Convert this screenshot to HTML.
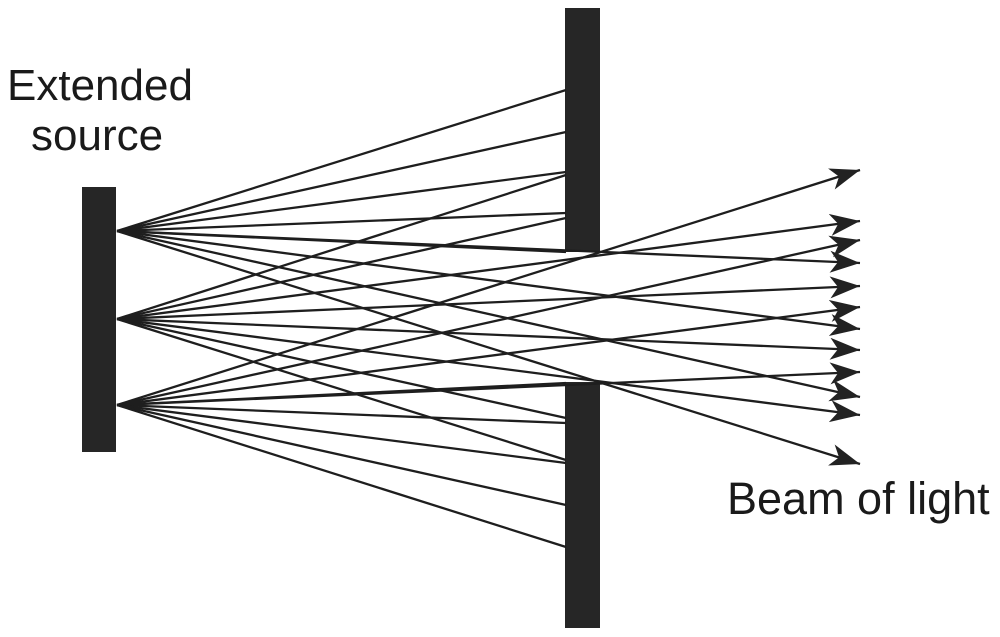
<!DOCTYPE html>
<html><head><meta charset="utf-8"><style>
html,body{margin:0;padding:0;background:#fff;}
svg{display:block;}
text{font-family:"Liberation Sans",Arial,sans-serif;fill:#1a1a1a;}
</style></head><body>
<svg width="1000" height="637" viewBox="0 0 1000 637" xmlns="http://www.w3.org/2000/svg">
<defs>
<marker id="ah" markerUnits="userSpaceOnUse" markerWidth="40" markerHeight="30" refX="30" refY="11" orient="auto" viewBox="0 0 40 30">
<path d="M30,11 L0,0 L8,11 L0,22 Z" fill="#222"/>
</marker>
</defs>
<rect x="82" y="187" width="34" height="265" fill="#262626"/>
<rect x="565" y="8" width="35" height="244" fill="#262626"/>
<rect x="565" y="382" width="35" height="246" fill="#262626"/>
<g stroke="#1e1e1e" stroke-width="2.3" fill="none">
<line x1="117" y1="231" x2="566" y2="90"/>
<line x1="117" y1="231" x2="566" y2="132"/>
<line x1="117" y1="231" x2="566" y2="172"/>
<line x1="117" y1="231" x2="566" y2="213"/>
<line x1="117" y1="231" x2="566" y2="252"/>
<line x1="117" y1="319" x2="566" y2="175"/>
<line x1="117" y1="319" x2="566" y2="218"/>
<line x1="117" y1="319" x2="566" y2="418"/>
<line x1="117" y1="319" x2="566" y2="460"/>
<line x1="117" y1="405" x2="566" y2="383"/>
<line x1="117" y1="405" x2="566" y2="423"/>
<line x1="117" y1="405" x2="566" y2="463"/>
<line x1="117" y1="405" x2="566" y2="505"/>
<line x1="117" y1="405" x2="566" y2="547"/>
</g>
<g stroke="#1e1e1e" stroke-width="2.3" fill="none" marker-end="url(#ah)">
<line x1="117" y1="231" x2="860" y2="263"/>
<line x1="117" y1="231" x2="860" y2="329"/>
<line x1="117" y1="231" x2="860" y2="397"/>
<line x1="117" y1="231" x2="860" y2="464"/>
<line x1="117" y1="319" x2="860" y2="221"/>
<line x1="117" y1="319" x2="860" y2="286"/>
<line x1="117" y1="319" x2="860" y2="350"/>
<line x1="117" y1="319" x2="860" y2="415"/>
<line x1="117" y1="405" x2="860" y2="170"/>
<line x1="117" y1="405" x2="860" y2="240"/>
<line x1="117" y1="405" x2="860" y2="307"/>
<line x1="117" y1="405" x2="860" y2="372"/>
</g>
<text x="7" y="100" font-size="44">Extended</text>
<text x="31" y="150" font-size="44">source</text>
<text x="727" y="514" font-size="45">Beam of light</text>
</svg>
</body></html>
